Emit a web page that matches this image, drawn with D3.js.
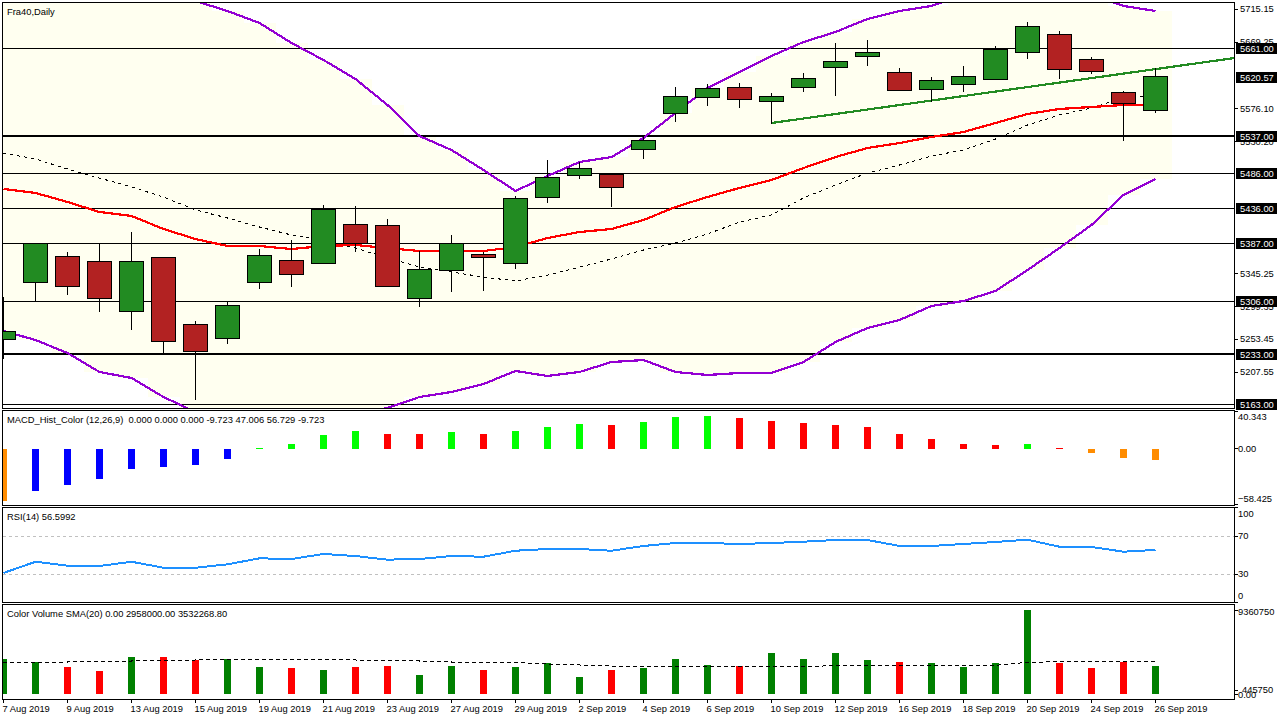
<!DOCTYPE html>
<html>
<head>
<meta charset="utf-8">
<script src="https://cdnjs.cloudflare.com/ajax/libs/d3/7.8.5/d3.min.js"></script>
<style>
  body { margin: 0; background: #fff; }
  svg { display: block; }
  text { font-family: "Liberation Sans", sans-serif; font-size: 9.35px; fill: #000; }
  .axis path.domain { display: none; }
  .axis line { stroke: #000; shape-rendering: crispEdges; }
  .axis text { font-family: "Liberation Sans", sans-serif; font-size: 9.35px; }
  .boxLabel { fill: #fff; }
</style>
</head>
<body>
<script>
// Chart values

var dates = ["7 Aug 2019", "8 Aug 2019", "9 Aug 2019", "12 Aug 2019", "13 Aug 2019", "14 Aug 2019", "15 Aug 2019", "16 Aug 2019", "19 Aug 2019", "20 Aug 2019", "21 Aug 2019", "22 Aug 2019", "23 Aug 2019", "26 Aug 2019", "27 Aug 2019", "28 Aug 2019", "29 Aug 2019", "30 Aug 2019", "2 Sep 2019", "3 Sep 2019", "4 Sep 2019", "5 Sep 2019", "6 Sep 2019", "9 Sep 2019", "10 Sep 2019", "11 Sep 2019", "12 Sep 2019", "13 Sep 2019", "16 Sep 2019", "17 Sep 2019", "18 Sep 2019", "19 Sep 2019", "20 Sep 2019", "23 Sep 2019", "24 Sep 2019", "25 Sep 2019", "26 Sep 2019"];

var opens = [5253.9, 5333.6, 5370.0, 5363.0, 5293.1, 5368.6, 5274.9, 5255.3, 5333.6, 5364.4, 5360.2, 5414.8, 5413.4, 5311.3, 5350.4, 5372.8, 5360.2, 5452.6, 5483.3, 5484.7, 5519.7, 5570.1, 5592.5, 5606.4, 5586.9, 5606.4, 5634.4, 5649.8, 5627.4, 5603.6, 5610.6, 5617.6, 5655.4, 5680.6, 5645.6, 5599.4, 5574.3];
var highs = [5312.7, 5388.2, 5375.6, 5388.2, 5403.6, 5368.6, 5279.1, 5307.1, 5379.8, 5392.4, 5441.2, 5440.0, 5421.8, 5377.0, 5399.4, 5375.6, 5454.0, 5504.3, 5501.5, 5484.7, 5537.9, 5606.4, 5610.6, 5612.0, 5598.0, 5626.0, 5668.0, 5672.2, 5633.0, 5620.4, 5635.8, 5663.8, 5697.4, 5684.8, 5648.4, 5600.8, 5633.0];
var lows = [5227.3, 5307.1, 5316.9, 5293.1, 5267.9, 5234.3, 5170.0, 5248.3, 5325.3, 5328.0, 5360.2, 5377.0, 5328.0, 5300.1, 5321.1, 5322.5, 5353.2, 5445.6, 5479.1, 5440.0, 5507.1, 5558.9, 5581.3, 5578.5, 5556.1, 5600.8, 5595.2, 5637.2, 5602.2, 5586.9, 5600.8, 5617.6, 5647.0, 5619.0, 5626.0, 5532.3, 5571.5];
var closes = [5265.1, 5388.2, 5328.0, 5311.3, 5363.0, 5251.1, 5237.1, 5301.5, 5371.4, 5344.8, 5435.8, 5388.2, 5328.0, 5351.8, 5388.2, 5368.6, 5451.2, 5480.5, 5493.1, 5466.6, 5532.3, 5593.9, 5605.0, 5589.7, 5593.9, 5619.0, 5642.8, 5655.4, 5602.2, 5616.2, 5621.8, 5659.6, 5691.8, 5631.6, 5628.8, 5584.1, 5621.8];

var bandUpper = [5777.1, 5772.9, 5767.3, 5758.9, 5750.5, 5740.7, 5726.7, 5712.8, 5696.0, 5668.0, 5644.2, 5617.6, 5581.3, 5537.9, 5518.3, 5490.3, 5461.0, 5481.9, 5501.5, 5508.5, 5535.1, 5570.1, 5605.0, 5627.4, 5649.8, 5669.4, 5683.4, 5701.6, 5712.8, 5719.8, 5735.1, 5744.9, 5747.7, 5744.9, 5735.1, 5719.8, 5712.8];
var bandLower = [5265.1, 5252.5, 5234.3, 5207.8, 5199.4, 5172.8, 5151.8, 5137.8, 5126.6, 5129.4, 5140.6, 5150.4, 5157.4, 5172.8, 5179.8, 5191.0, 5209.2, 5202.2, 5207.8, 5221.7, 5224.5, 5207.8, 5203.6, 5206.4, 5206.4, 5221.7, 5249.7, 5269.3, 5280.5, 5300.1, 5307.1, 5321.1, 5350.4, 5381.2, 5413.4, 5455.4, 5477.7];
var maRed = [5463.8, 5458.2, 5445.6, 5431.6, 5426.0, 5407.8, 5393.8, 5384.0, 5384.0, 5379.8, 5384.0, 5385.4, 5381.2, 5377.0, 5377.0, 5377.0, 5382.6, 5395.2, 5403.6, 5407.8, 5420.4, 5438.6, 5452.6, 5465.2, 5476.3, 5493.1, 5508.5, 5521.1, 5528.1, 5536.5, 5543.5, 5556.1, 5568.7, 5575.7, 5578.5, 5581.3, 5581.3];
var maDashed = [5514.1, 5505.7, 5491.7, 5479.1, 5466.5, 5452.6, 5434.4, 5423.2, 5410.6, 5399.4, 5392.4, 5381.2, 5367.2, 5354.6, 5347.6, 5340.6, 5335.1, 5343.4, 5354.6, 5365.8, 5378.4, 5388.2, 5400.8, 5417.6, 5427.4, 5451.2, 5469.3, 5486.1, 5497.3, 5509.9, 5518.3, 5533.7, 5553.3, 5567.3, 5577.1, 5591.1, 5593.9];

// trendline anchors, bar index and price
var trendBars = [24, 38.47];
var trendPrices = [5556.1, 5647.0];

var levels = [5661, 5537, 5486, 5436, 5387, 5306, 5233, 5163];
var heavyLevels = [5537, 5233];
var currentPrice = 5620.57;
var priceTicks = [5715.15, 5669.25, 5576.10, 5530.20, 5345.25, 5299.35, 5253.45, 5207.55];

var macdValues = [-55.2, -44.6, -38.2, -31.9, -21.2, -19.1, -17.0, -10.6, 1.1, 5.3, 14.9, 19.1, 15.9, 15.9, 18.1, 15.9, 19.1, 23.4, 26.5, 25.5, 28.7, 34.0, 35.0, 32.9, 29.7, 27.6, 25.5, 23.4, 15.9, 10.6, 5.3, 4.2, 5.3, 1.1, -4.2, -9.6, -11.7];
var macdTicks = [40.343, 0, -58.425];

var rsiValues = [31.1, 42.9, 38.7, 38.4, 42.9, 36.6, 36.6, 40.2, 46.5, 45.8, 51.1, 48.9, 45.1, 45.8, 48.9, 48.2, 54.5, 56.3, 56.3, 54.5, 59.5, 62.6, 62.6, 61.6, 62.6, 64.0, 65.8, 65.8, 59.5, 59.5, 61.6, 63.7, 66.1, 58.7, 58.4, 53.5, 55.3];
var rsiTicks = [100, 70, 30, 0];
var rsiLevels = [70, 30];

var volumes = [3900300, 3599400, 3008800, 2563100, 4123200, 4123200, 3788900, 3900300, 3008800, 2897400, 2674500, 3008800, 3120200, 2117300, 3120200, 2674500, 3008800, 3454500, 1894400, 2674500, 2897400, 3900300, 3231700, 3120200, 4568900, 3900300, 4568900, 3788900, 3566000, 3454500, 3008800, 3454500, 9360750, 3454500, 2897400, 3566000, 3120200];
var volumeSma = [3488000, 3533000, 3566000, 3599000, 3677000, 3711000, 3789000, 3845000, 3867000, 3845000, 3789000, 3789000, 3755000, 3677000, 3566000, 3566000, 3510000, 3343000, 3232000, 3120000, 3042000, 3042000, 3042000, 3042000, 3042000, 3064000, 3154000, 3154000, 3154000, 3154000, 3154000, 3198000, 3533000, 3599000, 3644000, 3644000, 3644000];
var volumeTicks = [9360750, 445750, 0];

var titles = ["Fra40,Daily", "MACD_Hist_Color (12,26,9)  0.000 0.000 0.000 -9.723 47.006 56.729 -9.723", "RSI(14) 56.5992", "Color Volume SMA(20) 0.00 2958000.00 3532268.80"];

// Panel geometry

var svgWidth = 1280;
var svgHeight = 720;
var left = 2.5;
var right = 1234.5;
var panels = [
  { top: 2.5, bottom: 408.5 },
  { top: 410.5, bottom: 505.5 },
  { top: 507.5, bottom: 602.5 },
  { top: 604.5, bottom: 699.5 }
];

var svg = d3.select("body")
  .append("svg")
  .attr("width", svgWidth)
  .attr("height", svgHeight);

// Scales

var x = d3.scaleLinear().domain([0, 36]).range([3.5, 1155.5]);
var yPrice = d3.scaleLinear().domain([5163, 5661]).range([404, 48]);
var yMacd = d3.scaleLinear().domain([-58.425, 40.343]).range([504, 411]);
var yRsi = d3.scaleLinear().domain([0, 100]).range([602.5, 507.5]);
var yVolume = d3.scaleLinear().domain([0, 9360750]).range([694, 610]);

// snap a price onto the pixel row it lands on
function row(v) {
  return Math.floor(yPrice(v) + 0.1);
}

var defs = svg.append("defs");
panels.forEach(function (p, i) {
  defs.append("clipPath")
    .attr("id", "clip" + i)
    .append("rect")
    .attr("x", left)
    .attr("y", p.top)
    .attr("width", right - left)
    .attr("height", p.bottom - p.top);
});

var mainGroup = svg.append("g").attr("clip-path", "url(#clip0)");
var macdGroup = svg.append("g").attr("clip-path", "url(#clip1)");
var rsiGroup = svg.append("g").attr("clip-path", "url(#clip2)");
var volumeGroup = svg.append("g").attr("clip-path", "url(#clip3)");

// Bollinger fill, one block per bar

mainGroup.selectAll(".bandFill")
  .data(bandUpper)
  .enter()
  .append("rect")
  .attr("class", "bandFill")
  .attr("x", function (d, i) { return x(i) - 16; })
  .attr("width", 32)
  .attr("y", function (d) { return row(d); })
  .attr("height", function (d, i) { return row(bandLower[i]) - row(d); })
  .attr("fill", "#FFFFF0")
  .attr("shape-rendering", "crispEdges");

// Horizontal levels

mainGroup.selectAll(".level")
  .data(levels)
  .enter()
  .append("line")
  .attr("class", "level")
  .attr("x1", left)
  .attr("x2", right)
  .attr("y1", function (d) { return heavyLevels.includes(d) ? row(d) : row(d) + 0.5; })
  .attr("y2", function (d) { return heavyLevels.includes(d) ? row(d) : row(d) + 0.5; })
  .attr("stroke", "#000")
  .attr("stroke-width", function (d) { return heavyLevels.includes(d) ? 2 : 1; })
  .attr("shape-rendering", "crispEdges");

// Moving averages and bands

var priceLine = d3.line()
  .x(function (d, i) { return x(i); })
  .y(function (d) { return yPrice(d); });

function addPriceLine(values, color, widthPx, dash) {
  mainGroup.append("path")
    .attr("d", priceLine(values))
    .attr("fill", "none")
    .attr("stroke", color)
    .attr("stroke-width", widthPx)
    .attr("stroke-dasharray", dash)
    .attr("shape-rendering", "crispEdges");
}

addPriceLine(maDashed, "#000", 1, "3,4");
addPriceLine(maRed, "#FF0000", 2.2, null);
addPriceLine(bandUpper, "#9400D3", 2.2, null);
addPriceLine(bandLower, "#9400D3", 2.2, null);

// Green trendline

mainGroup.append("line")
  .attr("x1", x(trendBars[0]))
  .attr("x2", x(trendBars[1]))
  .attr("y1", yPrice(trendPrices[0]))
  .attr("y2", yPrice(trendPrices[1]))
  .attr("stroke", "#228B22")
  .attr("stroke-width", 2.2)
  .attr("shape-rendering", "crispEdges");

// Candles

var candle = mainGroup.selectAll(".candle")
  .data(dates)
  .enter()
  .append("g")
  .attr("class", "candle")
  .attr("shape-rendering", "crispEdges");

candle.append("line")
  .attr("x1", function (d, i) { return x(i); })
  .attr("x2", function (d, i) { return x(i); })
  .attr("y1", function (d, i) { return row(highs[i]); })
  .attr("y2", function (d, i) { return row(lows[i]) + 1; })
  .attr("stroke", "#000");

candle.append("rect")
  .attr("x", function (d, i) { return x(i) - 12; })
  .attr("width", 24)
  .attr("y", function (d, i) { return row(Math.max(opens[i], closes[i])) + 0.5; })
  .attr("height", function (d, i) { return row(Math.min(opens[i], closes[i])) - row(Math.max(opens[i], closes[i])); })
  .attr("fill", function (d, i) { return closes[i] > opens[i] ? "#228B22" : "#B22222"; })
  .attr("stroke", "#000");

// MACD histogram, colour follows sign and direction

function macdColor(d, i) {
  var rising = i > 0 && d > macdValues[i - 1];
  if (d >= 0) {
    return rising ? "#00FF00" : "#FF0000";
  }
  return rising ? "#0000FF" : "#FF8C00";
}

macdGroup.selectAll("rect")
  .data(macdValues)
  .enter()
  .append("rect")
  .attr("x", function (d, i) { return x(i) - 3.5; })
  .attr("width", 7)
  .attr("y", function (d) { return Math.min(yMacd(d), yMacd(0)); })
  .attr("height", function (d) { return Math.max(1, Math.abs(yMacd(d) - yMacd(0))); })
  .attr("fill", macdColor)
  .attr("shape-rendering", "crispEdges");

// RSI

rsiGroup.selectAll("line")
  .data(rsiLevels)
  .enter()
  .append("line")
  .attr("x1", left)
  .attr("x2", right)
  .attr("y1", function (d) { return Math.floor(yRsi(d)) + 0.5; })
  .attr("y2", function (d) { return Math.floor(yRsi(d)) + 0.5; })
  .attr("stroke", "#C0C0C0")
  .attr("stroke-dasharray", "3,3")
  .attr("shape-rendering", "crispEdges");

rsiGroup.append("path")
  .attr("d", d3.line()
    .x(function (d, i) { return x(i); })
    .y(function (d) { return yRsi(d); })(rsiValues))
  .attr("fill", "none")
  .attr("stroke", "#1E90FF")
  .attr("stroke-width", 2)
  .attr("shape-rendering", "crispEdges");

// Volume, colour follows the candle of that bar

volumeGroup.selectAll("rect")
  .data(volumes)
  .enter()
  .append("rect")
  .attr("x", function (d, i) { return x(i) - 3.5; })
  .attr("width", 7)
  .attr("y", function (d) { return yVolume(d); })
  .attr("height", function (d) { return yVolume(0) - yVolume(d); })
  .attr("fill", function (d, i) { return closes[i] > opens[i] ? "#008000" : "#FF0000"; })
  .attr("shape-rendering", "crispEdges");

volumeGroup.append("path")
  .attr("d", d3.line()
    .x(function (d, i) { return x(i); })
    .y(function (d) { return yVolume(d); })(volumeSma))
  .attr("fill", "none")
  .attr("stroke", "#000")
  .attr("stroke-dasharray", "4,3")
  .attr("shape-rendering", "crispEdges");

// Panel frames

svg.selectAll(".frame")
  .data(panels)
  .enter()
  .append("rect")
  .attr("class", "frame")
  .attr("x", left)
  .attr("y", function (d) { return d.top; })
  .attr("width", right - left)
  .attr("height", function (d) { return d.bottom - d.top; })
  .attr("fill", "none")
  .attr("stroke", "#000")
  .attr("shape-rendering", "crispEdges");

// Panel titles

svg.selectAll(".panelTitle")
  .data(titles)
  .enter()
  .append("text")
  .attr("class", "panelTitle")
  .attr("x", 7)
  .attr("y", function (d, i) { return panels[i].top + 12; })
  .attr("xml:space", "preserve")
  .style("white-space", "pre")
  .text(function (d) { return d; });

// Right hand axes, labels stay inside their panel

function addRightAxis(scale, ticks, format, panel, padding) {
  var axis = svg.append("g")
    .attr("class", "axis")
    .attr("transform", "translate(" + right + ",0)")
    .call(d3.axisRight(scale).tickValues(ticks).tickFormat(format).tickSize(3).tickPadding(padding).offset(0));
  axis.selectAll(".tick text")
    .attr("y", function (d) {
      var wanted = Math.max(panel.top + 7, Math.min(panel.bottom - 7, scale(d)));
      return wanted - scale(d);
    });
  return axis;
}

addRightAxis(yPrice, priceTicks, d3.format(".2f"), panels[0], 2.5);
addRightAxis(yMacd, macdTicks, function (d) { return d === 0 ? "0.00" : d3.format(".3f")(d); }, panels[1], 0.5);
addRightAxis(yRsi, rsiTicks, d3.format("d"), panels[2], 0.5);
var volumeAxis = addRightAxis(yVolume, volumeTicks, function (d) { return d === 0 ? "0.00" : d3.format("d")(d); }, panels[3], 0.5);
volumeAxis.selectAll(".tick text").filter(function (d) { return d === 0; }).attr("y", 1);
volumeAxis.selectAll(".tick text").filter(function (d) { return d === 445750; }).attr("dx", 4);

// Black price boxes

var boxed = levels.concat([currentPrice]);
var boxes = svg.selectAll(".priceBox")
  .data(boxed)
  .enter()
  .append("g")
  .attr("class", "priceBox")
  .attr("transform", function (d) { return "translate(0," + row(d) + ")"; });

boxes.append("rect")
  .attr("x", 1236)
  .attr("y", -5.5)
  .attr("width", 41)
  .attr("height", 11)
  .attr("fill", "#000")
  .attr("shape-rendering", "crispEdges");

boxes.append("text")
  .attr("class", "boxLabel")
  .attr("x", 1240)
  .attr("y", 3.5)
  .text(function (d) { return d3.format(".2f")(d); });

// Date axis

var dateTicks = d3.range(0, dates.length, 2);

svg.append("g")
  .attr("class", "axis dateAxis")
  .attr("transform", "translate(0," + panels[3].bottom + ")")
  .call(d3.axisBottom(x)
    .tickValues(dateTicks)
    .tickFormat(function (i) { return dates[i]; })
    .tickSize(3)
    .tickPadding(2.5)
    .offset(0))
  .selectAll(".tick text")
  .attr("text-anchor", "start")
  .attr("x", -1);
</script>
</body>
</html>
